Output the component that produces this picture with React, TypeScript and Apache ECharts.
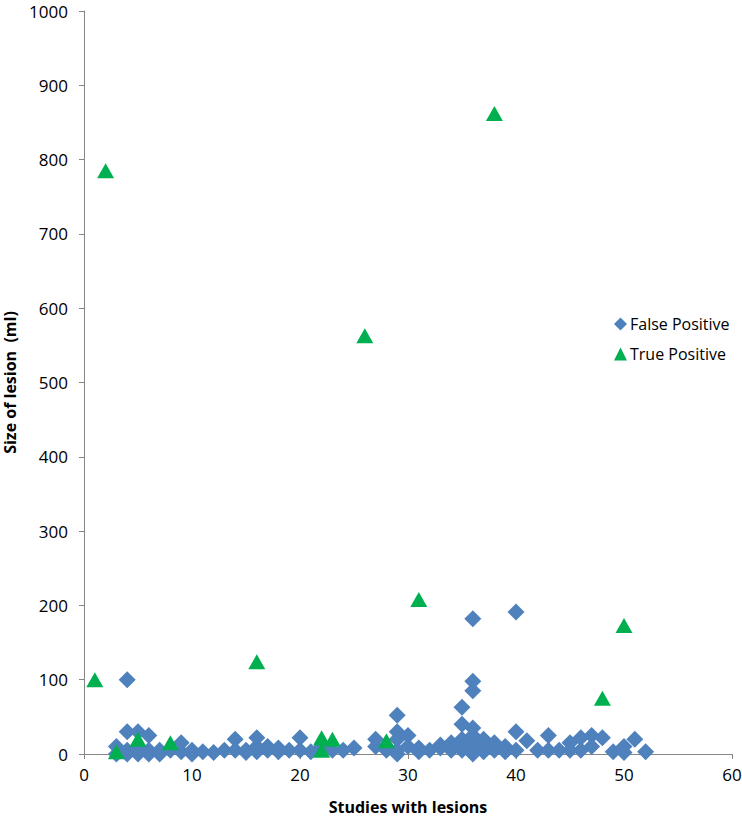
import React, { useEffect, useRef } from "react";
import * as echarts from "echarts";

const falsePositive: [number, number][] = [
  [3, 10], [3, 0],
  [4, 30], [4, 5], [4, 0], [4, 100],
  [5, 30], [5, 10], [5, 0],
  [6, 25], [6, 5], [6, 0],
  [7, 5], [7, 0],
  [8, 5],
  [9, 15], [9, 3],
  [10, 5], [10, 0],
  [11, 3], [12, 2], [13, 5],
  [14, 20], [14, 5],
  [15, 5], [15, 2],
  [16, 22], [16, 10], [16, 3],
  [17, 10], [17, 5],
  [18, 8], [18, 3],
  [19, 5],
  [20, 22], [20, 5],
  [21, 3], [22, 10], [23, 5], [24, 5], [25, 8],
  [27, 20], [27, 10],
  [28, 5], [28, 10],
  [29, 52], [29, 30], [29, 20], [29, 5], [29, 0],
  [30, 25], [30, 10],
  [31, 8], [31, 3],
  [32, 5],
  [33, 12], [33, 8],
  [34, 15], [34, 5],
  [35, 63], [35, 40], [35, 20], [35, 10], [35, 5],
  [36, 182], [36, 98], [36, 85], [36, 35], [36, 25], [36, 15], [36, 5], [36, 0],
  [37, 20], [37, 10], [37, 3],
  [38, 15], [38, 5],
  [39, 10], [39, 3],
  [40, 191], [40, 30], [40, 5],
  [41, 18], [42, 5],
  [43, 25], [43, 5],
  [44, 5],
  [45, 15], [45, 5],
  [46, 22], [46, 5],
  [47, 25], [47, 10],
  [48, 22], [49, 3],
  [50, 10], [50, 2],
  [51, 20], [52, 3],
];

const truePositive: [number, number][] = [
  [1, 100], [2, 785], [3, 3], [5, 20], [8, 15], [16, 124], [22, 5], [22, 22],
  [23, 20], [26, 563], [28, 18], [31, 208], [38, 862], [48, 75], [50, 173],
];

const seriesNames = ["False Positive", "True Positive"];
const xAxisTitle = "Studies with lesions";
const yAxisTitle = "Size of lesion  (ml)";

const FONT = "'Open Sans', sans-serif";

export default function App() {
  const ref = useRef<HTMLDivElement>(null);
  useEffect(() => {
    if (!ref.current) return;
    const chart = echarts.init(ref.current, undefined, { renderer: "svg" });
    const axisLine = { show: true, lineStyle: { color: "#868686", width: 1 } };
    chart.setOption({
      animation: false,
      backgroundColor: "#ffffff",
      textStyle: { fontFamily: FONT },
      grid: { left: 84, right: 10, top: 11, bottom: 67, containLabel: false, outerBoundsMode: "none" },
      legend: {
        orient: "vertical",
        left: 609,
        top: 311,
        itemGap: 14,
        itemWidth: 13,
        itemHeight: 13,
        itemStyle: { borderWidth: 0 },
        textStyle: { fontSize: 16, color: "#000", fontFamily: FONT, padding: [0, 0, 0, -2] },
        data: [
          { name: seriesNames[0], icon: "diamond" },
          { name: seriesNames[1], icon: "triangle" },
        ],
      },
      xAxis: {
        type: "value",
        min: 0,
        max: 60,
        interval: 10,
        name: xAxisTitle,
        nameLocation: "middle",
        nameGap: 45,
        nameTextStyle: { fontSize: 16, lineHeight: 16, fontWeight: "bold", color: "#000", fontFamily: FONT },
        axisLine,
        axisTick: { show: true, length: 5, lineStyle: { color: "#868686" } },
        axisLabel: { fontSize: 17, color: "#000", margin: 12, fontFamily: FONT },
        splitLine: { show: false },
      },
      yAxis: {
        type: "value",
        min: 0,
        max: 1000,
        interval: 100,
        name: yAxisTitle,
        nameLocation: "middle",
        nameGap: 66,
        nameRotate: 90,
        nameTextStyle: { fontSize: 16, fontWeight: "bold", color: "#000", fontFamily: FONT },
        axisLine,
        axisTick: { show: true, length: 5, lineStyle: { color: "#868686" } },
        axisLabel: {
          fontSize: 17,
          lineHeight: 14,
          color: "#000",
          margin: 16,
          fontFamily: FONT,
          formatter: (v: number) => String(v),
        },
        splitLine: { show: false },
      },
      series: [
        {
          name: seriesNames[0],
          type: "scatter",
          symbol: "diamond",
          symbolSize: [17, 17],
          itemStyle: { color: "#4F81BD", opacity: 1 },
          data: falsePositive,
          z: 2,
        },
        {
          name: seriesNames[1],
          type: "scatter",
          symbol: "triangle",
          symbolSize: [17, 15],
          itemStyle: { color: "#00B050", opacity: 1 },
          data: truePositive,
          z: 3,
        },
      ],
    });
    return () => chart.dispose();
  }, []);
  return <div ref={ref} style={{ width: 742, height: 821, position: "absolute", left: 0, top: 0 }} />;
}
